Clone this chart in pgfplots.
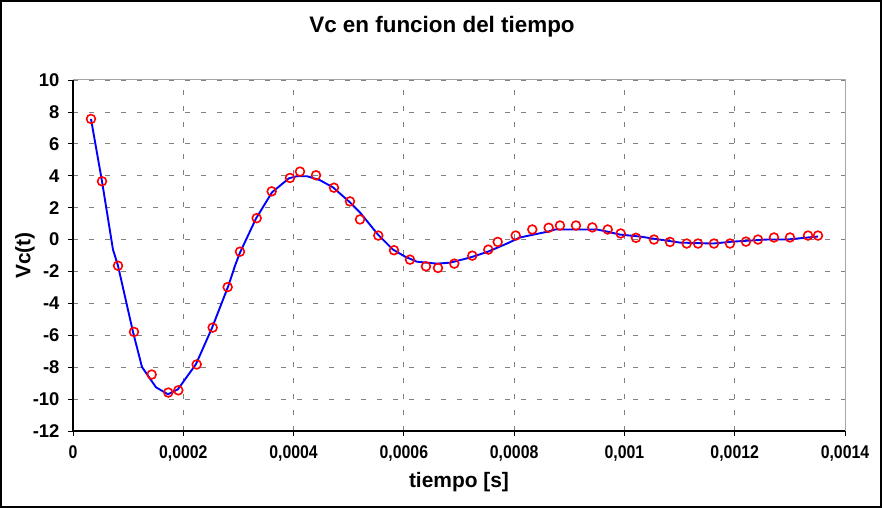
\documentclass[border=0pt]{standalone}
\usepackage{fontspec}
\setmainfont{Liberation Sans}
\usepackage{pgfplots}
\pgfplotsset{compat=1.18}
\definecolor{gridgray}{RGB}{128,128,128}
\definecolor{lineblue}{RGB}{0,0,255}
\definecolor{markred}{RGB}{255,0,0}
\newcommand\sx[1]{\scalebox{0.86}[1]{#1}}
\begin{document}
\begin{tikzpicture}
\begin{axis}[
  name=ax,
  scale only axis,
  width=772bp, height=351bp,
  xmin=0, xmax=0.0014,
  ymin=-12, ymax=10,
  xtick={0,0.0002,0.0004,0.0006,0.0008,0.001,0.0012,0.0014},
  xticklabels={{\sx{0}},{\sx{0,0002}},{\sx{0,0004}},{\sx{0,0006}},{\sx{0,0008}},{\sx{0,001}},{\sx{0,0012}},{\sx{0,0014}}},
  ytick={-12,-10,-8,-6,-4,-2,0,2,4,6,8,10},
  scaled x ticks=false,
  axis lines*=left,
  axis line style={black, line width=1.2bp},
  tick align=outside,
  major tick length=5bp,
  tick style={black, line width=0.8bp},
  grid=major,
  major grid style={gridgray, line width=0.8bp, dash pattern=on 5bp off 11bp},
  /pgf/number format/assume math mode=true,
  ticklabel style={font=\fontsize{18.5}{20}\selectfont\bfseries},
  xticklabel style={anchor=north, yshift=-6bp},
  yticklabel style={xshift=-5bp},
  xlabel={tiempo [s]},
  ylabel={Vc(t)},
  label style={font=\fontsize{21}{23}\selectfont\bfseries},
  xlabel style={at={(axis description cs:0.5,-0.145)}, anchor=center},
  ylabel style={at={(axis description cs:-0.0622,0.5)}, anchor=center},
  title={Vc en funcion del tiempo},
  title style={font=\fontsize{22.5}{25}\selectfont\bfseries, at={(axis description cs:0.478,1.134)}, anchor=center},
  clip=false,
]
\draw[gridgray!70, line width=1bp] (rel axis cs:0,1) -- (rel axis cs:1,1) -- (rel axis cs:1,0);
\addplot[lineblue, line width=1.9bp, mark=none] coordinates {
(3.26e-5,7.56) (5.26e-5,3.65) (7.25e-5,-0.63) (8.16e-5,-1.64) (1.088e-4,-5.79)
(1.251e-4,-7.99) (1.505e-4,-9.26) (1.723e-4,-9.70) (1.904e-4,-9.38) (2.230e-4,-7.81)
(2.521e-4,-5.54) (2.811e-4,-2.96) (2.938e-4,-1.64) (3.028e-4,-0.82) (3.319e-4,1.32)
(3.609e-4,2.96) (3.917e-4,3.84) (4.062e-4,3.97) (4.243e-4,3.97) (4.479e-4,3.72)
(4.715e-4,3.27) (5.023e-4,2.33) (5.204e-4,1.70) (5.531e-4,0.31) (5.803e-4,-0.63)
(6.021e-4,-1.07) (6.238e-4,-1.39) (6.601e-4,-1.51) (6.837e-4,-1.45) (7.199e-4,-1.13)
(7.526e-4,-0.76) (7.870e-4,-0.25) (8.106e-4,0.13) (8.614e-4,0.50) (8.741e-4,0.63)
(9.502e-4,0.63) (9.684e-4,0.50) (9.919e-4,0.31) (1.0282e-3,0.19) (1.0518e-3,0.06)
(1.1007e-3,-0.19) (1.1606e-3,-0.25) (1.1968e-3,-0.13) (1.2585e-3,0.0) (1.2948e-3,0.0)
(1.3510e-3,0.19)
};
\addplot[only marks, mark=o, mark size=4.4bp, mark options={markred, line width=1.6bp}] coordinates {
(3.26e-5,7.56) (5.26e-5,3.65) (8.16e-5,-1.64) (1.106e-4,-5.79) (1.427e-4,-8.46)
(1.728e-4,-9.59) (1.910e-4,-9.45) (2.243e-4,-7.83) (2.533e-4,-5.52) (2.805e-4,-2.98)
(3.028e-4,-0.76) (3.331e-4,1.34) (3.603e-4,3.02) (3.935e-4,3.86) (4.116e-4,4.26)
(4.407e-4,4.03) (4.733e-4,3.25) (5.023e-4,2.39) (5.204e-4,1.26) (5.536e-4,0.25)
(5.821e-4,-0.67) (6.111e-4,-1.26) (6.401e-4,-1.68) (6.619e-4,-1.78) (6.915e-4,-1.51)
(7.241e-4,-1.01) (7.531e-4,-0.63) (7.702e-4,-0.15) (8.028e-4,0.25) (8.329e-4,0.63)
(8.626e-4,0.74) (8.831e-4,0.88) (9.121e-4,0.88) (9.417e-4,0.76) (9.697e-4,0.63)
(9.932e-4,0.38) (1.0209e-3,0.11) (1.0536e-3,0.0) (1.0826e-3,-0.15) (1.1129e-3,-0.25)
(1.1334e-3,-0.25) (1.1624e-3,-0.25) (1.1914e-3,-0.25) (1.2204e-3,-0.13) (1.2422e-3,0.0)
(1.2712e-3,0.13) (1.3002e-3,0.13) (1.3329e-3,0.25) (1.3510e-3,0.25)
};
\end{axis}
\draw[black, line width=1.2bp] ([shift={(-72bp,-76bp)}]ax.south west) rectangle ++(880bp,506bp);
\pgfresetboundingbox
\path ([shift={(-73bp,-77bp)}]ax.south west) rectangle ++(882bp,508bp);
\end{tikzpicture}
\end{document}
